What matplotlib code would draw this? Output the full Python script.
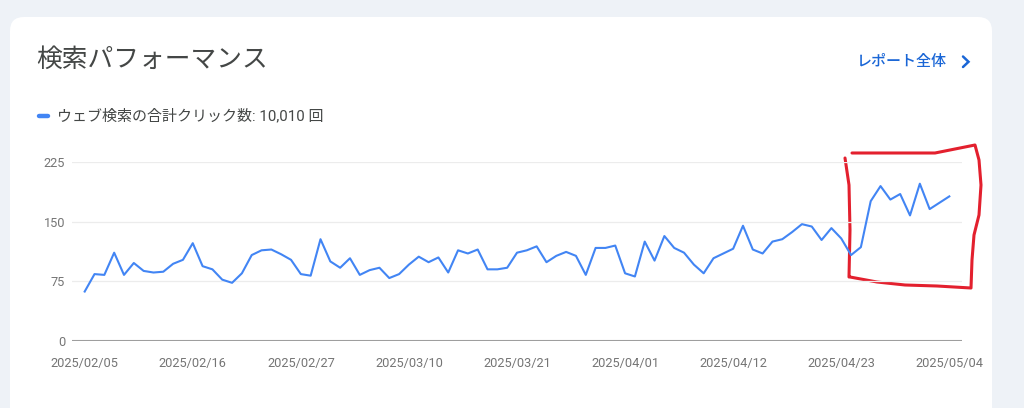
import numpy as np
import pandas as pd
import matplotlib
matplotlib.use("Agg")
import matplotlib.pyplot as plt
from matplotlib.patches import FancyBboxPatch

plt.rcParams['font.family'] = ['Roboto', 'Noto Sans CJK JP', 'DejaVu Sans']

# daily clicks, 2025/02/05 .. 2025/05/04
dates = pd.date_range("2025-02-05", "2025-05-04", freq="D")
clicks = [
    62, 84, 83, 111, 83, 98, 88, 86, 87, 97,
    102, 123, 94, 90, 77, 73, 85, 108, 114, 115,
    109, 102, 84, 82, 128, 100, 92, 104, 83, 89,
    92, 79, 84, 96, 106, 99, 105, 86, 114, 110,
    115, 90, 90, 92, 111, 114, 119, 99, 107, 112,
    107, 83, 117, 117, 120, 85, 81, 125, 101, 132,
    117, 111, 96, 85, 104, 110, 116, 145, 115, 110,
    125, 128, 137, 147, 144, 127, 142, 129, 108, 118,
    176, 195, 178, 185, 158, 198, 166, 174, 182,
]
y_ticks = [0, 75, 150, 225]
x_tick_dates = pd.date_range("2025-02-05", "2025-05-04", freq="11D")

title = "検索パフォーマンス"
legend_label = "ウェブ検索の合計クリック数: 10,010 回"
link_label = "レポート全体"

W, H = 1024, 408
fig = plt.figure(figsize=(W / 100, H / 100), dpi=100)
fig.patch.set_facecolor('#eef2f7')

# overlay in pixel coordinates for card / header / annotation
ov = fig.add_axes([0, 0, 1, 1])
ov.set_xlim(0, W)
ov.set_ylim(H, 0)
ov.axis('off')

card = FancyBboxPatch((10, 17), 982, 420, boxstyle="round,pad=0,rounding_size=14",
                      fc='white', ec='none', zorder=0)
ov.add_patch(card)

ov.text(36, 60, title, fontsize=18.5, color='#444746', va='center', ha='left')
ov.plot([38.5, 48], [115.5, 115.5], color='#4285f4', lw=3.2, solid_capstyle='round')
ov.text(57, 115.5, legend_label, fontsize=10.8, color='#444746', va='center', ha='left')
ov.text(947, 62, link_label, fontsize=10.8, color='#1a66d6', va='center', ha='right',
        fontweight='medium')
ov.plot([963, 968.5, 963], [56.5, 61.8, 67], color='#1a66d6', lw=1.8,
        solid_capstyle='round', solid_joinstyle='miter')

# main chart
ax = fig.add_axes([72 / W, (H - 340.7) / H, 890 / W, (340.7 - 162.3) / H])
ax.set_facecolor('none')
ax.plot(dates, clicks, color='#4285f4', lw=1.5, zorder=3)
ax.set_ylim(0, 225)
ax.set_xlim(dates[0] - pd.Timedelta(hours=31), dates[-1] + pd.Timedelta(hours=31))
ax.set_yticks(y_ticks)
ax.set_xticks(x_tick_dates)
ax.set_xticklabels([d.strftime("%Y/%m/%d") for d in x_tick_dates])
for v in y_ticks[1:]:
    ax.axhline(v, color='#ececec', lw=0.9, zorder=1)
ax.axhline(0, color='#9e9e9e', lw=1.5, zorder=2)
for s in ax.spines.values():
    s.set_visible(False)
ax.tick_params(axis='both', length=0, labelsize=9.2, labelcolor='#757575')
ax.tick_params(axis='y', pad=5)
ax.tick_params(axis='x', pad=12)

# hand-drawn red box
red_x = [845, 849, 850, 849, 850, 877, 905, 937, 971, 972, 974, 979, 981, 979, 975,
         955, 935, 900, 852]
red_y = [158, 185, 230, 277, 277, 282, 285, 286, 288, 260, 235, 215, 185, 160, 145,
         149, 153, 153, 153]
ov.plot(red_x, red_y, color='#e3202e', lw=2.2, solid_capstyle='round',
        solid_joinstyle='round', zorder=5)

fig.savefig("out.png", dpi=100, facecolor=fig.get_facecolor())
